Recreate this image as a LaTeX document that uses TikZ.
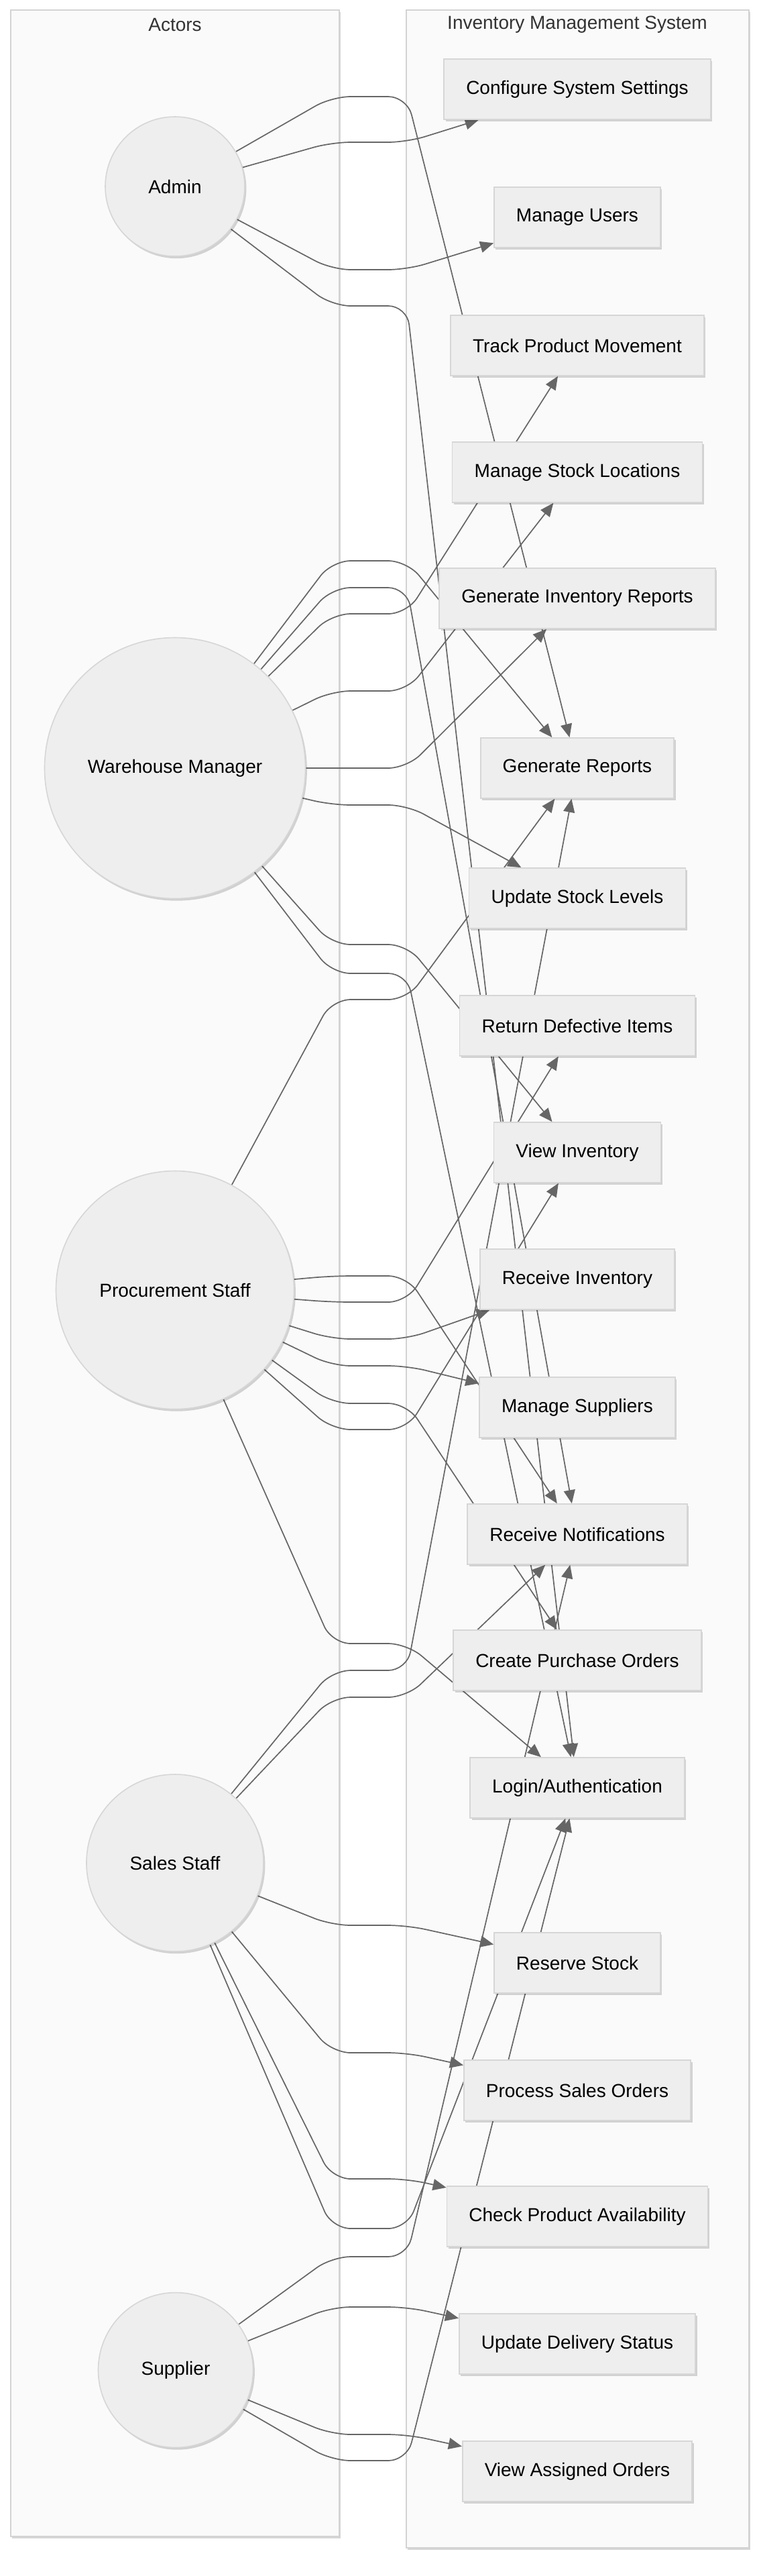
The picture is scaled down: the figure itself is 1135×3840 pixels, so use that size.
\documentclass[tikz,border=0pt]{standalone}
\usepackage{fontspec}
\setmainfont{Liberation Sans}
\usetikzlibrary{arrows.meta,shadows}

\definecolor{framefill}{HTML}{FAFAFA}
\definecolor{frameline}{HTML}{D3D3D3}
\definecolor{nodefill}{HTML}{EEEEEE}
\definecolor{nodeline}{HTML}{D6D6D6}
\definecolor{linkgray}{HTML}{666666}
\definecolor{titlegray}{HTML}{333333}

\pgfdeclarelayer{frames}
\pgfdeclarelayer{links}
\pgfsetlayers{frames,links,main}

\tikzset{
  softshadow/.style={drop shadow={shadow xshift=1.2pt,shadow yshift=-1.6pt,opacity=0.16,fill=black}},
  frame/.style={draw=frameline,line width=0.8pt,fill=framefill,softshadow},
  frametitle/.style={text=titlegray},
  actor/.style={circle,draw=nodeline,line width=0.8pt,fill=nodefill,inner sep=2pt,softshadow},
  usecase/.style={rectangle,draw=nodeline,line width=0.8pt,fill=nodefill,minimum height=45pt,inner xsep=16.5pt,softshadow},
  link/.style={draw=linkgray,line width=0.85pt,rounded corners=14pt,-{Triangle[length=10pt,width=8.5pt]}}
}

\begin{document}
\begin{tikzpicture}[x=0.5pt,y=-0.5pt,font=\fontsize{14}{17}\selectfont]
  \useasboundingbox (0,0) rectangle (1135,3840);

  % the two boxes
  \begin{pgfonlayer}{frames}
    \draw[frame] (16,15) rectangle (506,3781);
    \draw[frame] (606,15) rectangle (1117,3798);
  \end{pgfonlayer}
  \node[frametitle] (actorstitle) at (261,37) {Actors};
  \node[frametitle] (systitle) at (861,37) {Inventory Management System};

  % actors
  \node[actor,minimum size=104pt] (admin) at (261,278) {Admin};
  \node[actor,minimum size=194.5pt] (whm) at (261,1145) {Warehouse Manager};
  \node[actor,minimum size=177.5pt] (proc) at (261,1923) {Procurement Staff};
  \node[actor,minimum size=132pt] (sales) at (261,2777) {Sales Staff};
  \node[actor,minimum size=115.5pt] (supp) at (262,3533) {Supplier};

  % use cases
  \node[usecase] (cfg) at (861,133) {Configure System Settings};
  \node[usecase] (users) at (861,324) {Manage Users};
  \node[usecase] (track) at (861,515) {Track Product Movement};
  \node[usecase] (locs) at (861,704) {Manage Stock Locations};
  \node[usecase] (invrep) at (861,892) {Generate Inventory Reports};
  \node[usecase] (reports) at (861,1145) {Generate Reports};
  \node[usecase] (stock) at (861,1339) {Update Stock Levels};
  \node[usecase] (defect) at (861,1529) {Return Defective Items};
  \node[usecase] (viewinv) at (861,1718) {View Inventory};
  \node[usecase] (recvinv) at (861,1907) {Receive Inventory};
  \node[usecase] (suppliers) at (861,2098) {Manage Suppliers};
  \node[usecase] (notify) at (861,2287) {Receive Notifications};
  \node[usecase] (purchase) at (861,2475) {Create Purchase Orders};
  \node[usecase] (login) at (861,2665) {Login/Authentication};
  \node[usecase] (reserve) at (861,2926) {Reserve Stock};
  \node[usecase] (salesord) at (861,3116) {Process Sales Orders};
  \node[usecase] (avail) at (861,3304) {Check Product Availability};
  \node[usecase] (delivery) at (861,3494) {Update Delivery Status};
  \node[usecase] (assigned) at (861,3684) {View Assigned Orders};

  % actor -> use case, crossing the gap at height \y
  \begin{pgfonlayer}{links}
    \foreach \who/\y/\what in {admin/144/reports, admin/212/cfg, admin/402/users, admin/456/login,
        whm/836/reports, whm/876/notify, whm/915/track, whm/1030/locs,
        whm/1145/invrep, whm/1200/stock, whm/1408/viewinv, whm/1451/login,
        proc/1490/reports, proc/1902/notify, proc/1941/defect, proc/1996/recvinv,
        proc/2036/suppliers, proc/2092/purchase, proc/2131/viewinv, proc/2450/login,
        sales/2490/reports, sales/2530/notify, sales/2870/reserve, sales/3060/salesord,
        sales/3248/avail, sales/3322/login,
        supp/3364/notify, supp/3439/delivery, supp/3629/assigned, supp/3668/login} {
      \draw[link] (\who) -- (495,\y) -- (607,\y) -- (\what);
    }
  \end{pgfonlayer}
\end{tikzpicture}
\end{document}
